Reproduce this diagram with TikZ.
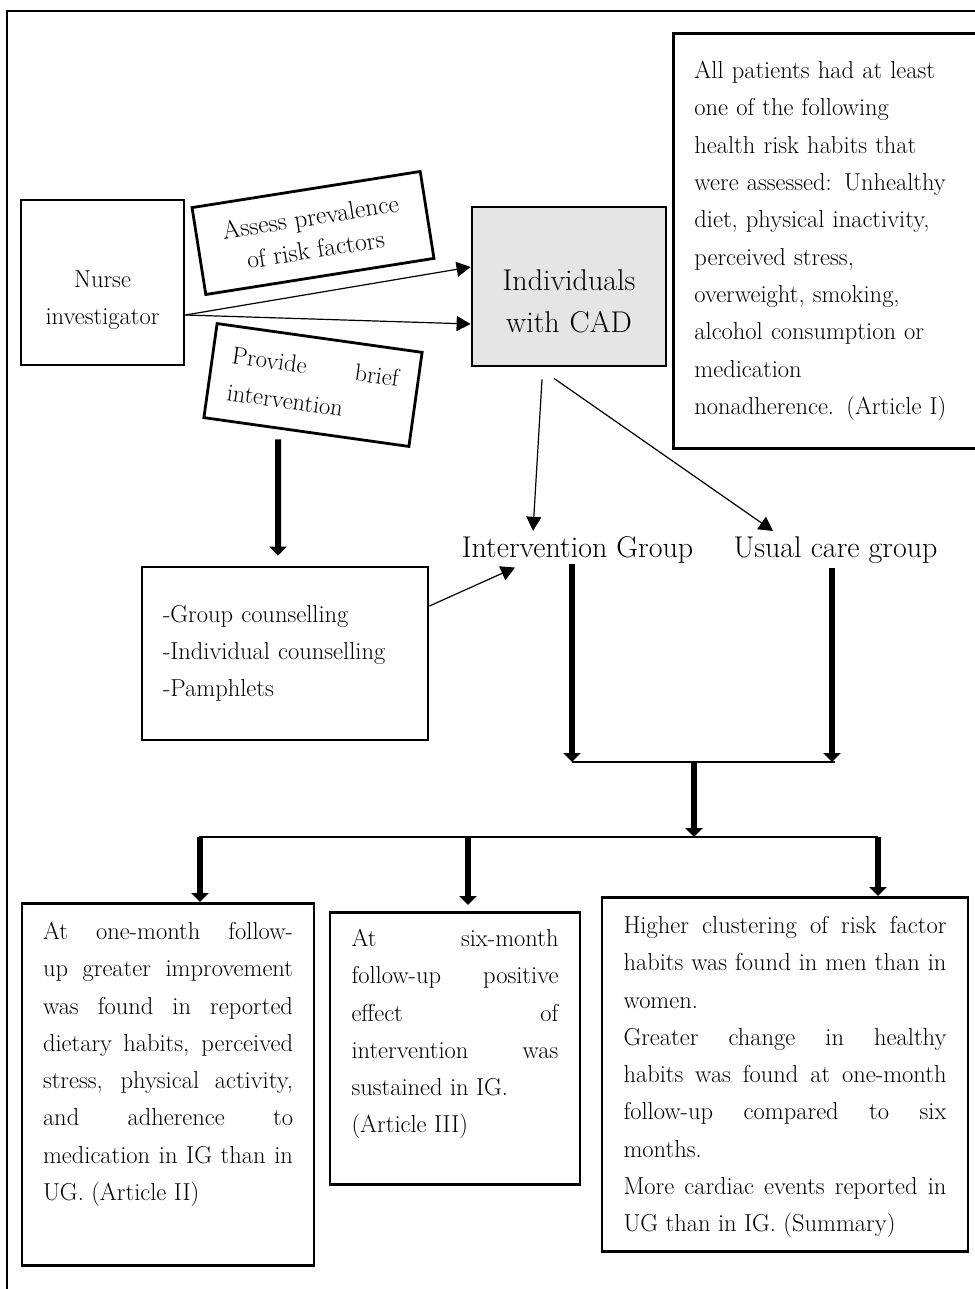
\documentclass[tikz,border=0pt]{standalone}
\usepackage{tikz}
\usetikzlibrary{arrows.meta}

\definecolor{cadgray}{gray}{0.9}

\tikzset{
  box/.style={draw, line width=2.8pt},
  frame/.style={line width=2.3pt},
  link/.style={line width=1.4pt},
  thin arrow/.style={line width=1.2pt, -{Triangle[length=14pt,width=15pt]}},
  heavy arrow/.style={line width=6pt, -{Triangle[length=9pt,width=17pt]}},
  body/.style={font=\fontsize{24.5}{37.3}\selectfont},
  big/.style={font=\fontsize{30}{42}\selectfont},
  result/.style={box, body, anchor=north, align=justify, text height=17pt},
}

\begin{document}
\begin{tikzpicture}[x=1pt,y=1pt]

\useasboundingbox (0,0) rectangle (974,-1289);

%% page frame, cut by the page on the right and at the bottom
\draw[frame] (7,-1300) -- (7,-11) -- (990,-11);

%% top row
\node[box, body, minimum width=163pt, minimum height=165pt, text width=140pt, text height=17pt, text depth=8pt, align=center] (nurse) at (102.5,-282.5) {Nurse\\investigator};

\node[box, font=\fontsize{25.5}{33}\selectfont, rotate=9, minimum width=231pt, minimum height=88pt, align=center] (assess) at (313,-233) {Assess prevalence\\of risk factors};

\node[box, body, rotate=-8, minimum width=207pt, minimum height=95pt, text width=168pt, inner xsep=19.5pt, align=justify] (provide) at (313,-385) {Provide brief\linebreak intervention};

\node[box, big, fill=cadgray, minimum width=194pt, minimum height=159pt, text width=170pt, text height=21pt, text depth=14pt, align=center] (cad) at (569,-286.5) {Individuals\\with CAD};

\node[box, body, anchor=north west, text width=290pt, inner xsep=21pt, minimum height=415pt, align=left] (habits) at (672,-32) {All patients had at least\\one of the following\\health risk habits that\\were assessed: Unhealthy\\diet, physical inactivity,\\perceived stress,\\overweight, smoking,\\alcohol consumption or\\medication\\nonadherence. (Article I)};

%% middle row
\node[box, body, text width=244pt, inner xsep=21pt, minimum height=173pt, align=left] (couns) at (285,-653.5) {-Group counselling\\-Individual counselling\\-Pamphlets};

\node[big, inner sep=0pt, anchor=base] (ig) at (577.5,-557) {Intervention Group};
\node[big, inner sep=0pt, anchor=base] (ucg) at (835.5,-557) {Usual care group};

\coordinate (merge) at (694,-762);
\coordinate (split) at (694,-837);

%% results
\node[result, text width=250pt, inner xsep=21pt, inner ysep=19pt, text depth=307pt] (res1) at (168,-902) {At one-month follow-\linebreak{}up greater improvement\linebreak was found in reported\linebreak dietary habits, perceived\linebreak stress, physical activity,\linebreak and adherence to\linebreak medication in IG than in\linebreak UG. (Article II)};

\node[result, text width=207pt, inner xsep=21.5pt, inner ysep=17pt, text depth=221pt] (res2) at (455,-911) {At six-month\linebreak follow-up positive\linebreak effect of\linebreak intervention was\linebreak sustained in IG.\\(Article III)};

\node[result, text width=323pt, inner xsep=21.5pt, inner ysep=19pt, text depth=299pt] (res3) at (785,-896) {Higher clustering of risk factor\linebreak habits was found in men than in\linebreak women.\par Greater change in healthy\linebreak habits was found at one-month\linebreak follow-up compared to six\linebreak months.\par More cardiac events reported in\linebreak UG than in IG. (Summary)};

%% connectors
\draw[thin arrow] ([yshift=-32.5pt]nurse.east) -- ([yshift=19.5pt]cad.west);
\draw[thin arrow] ([yshift=-32.5pt]nurse.east) -- ([yshift=-37.5pt]cad.west);

\draw[thin arrow] ([shift={(-27pt,-12pt)}]cad.south) -- ([shift={(-44.5pt,5pt)}]ig.north);
\draw[thin arrow] ([shift={(-15pt,-11pt)}]cad.south) -- ([shift={(-62.5pt,5pt)}]ucg.north);

\draw[heavy arrow] ([shift={(-28pt,-6pt)}]provide.south) -- ([shift={(-7pt,10pt)}]couns.north);
\draw[thin arrow] ([yshift=47.5pt]couns.east) -- ([shift={(-62.5pt,-4.5pt)}]ig.south);

\draw[heavy arrow] ([shift={(-5.5pt,-1pt)}]ig.south) -- ([xshift=-5.5pt]ig.south |- merge);
\draw[heavy arrow] ([shift={(-3.5pt,-4.5pt)}]ucg.south) -- ([xshift=-3.5pt]ucg.south |- merge);
\draw[link] ([xshift=-5.5pt]ig.south |- merge) -- ([xshift=-0.5pt]ucg.south |- merge);

\draw[heavy arrow] (merge) -- (split);
\draw[link] ([xshift=31pt]res1.north |- split) -- ([xshift=93pt]res3.north |- split);

\draw[heavy arrow] ([xshift=32pt]res1.north |- split) -- ([xshift=32pt]res1.north);
\draw[heavy arrow] ([xshift=13pt]res2.north |- split) -- ([shift={(13pt,6pt)}]res2.north);
\draw[heavy arrow] ([xshift=93pt]res3.north |- split) -- ([xshift=93pt]res3.north);

\end{tikzpicture}
\end{document}
